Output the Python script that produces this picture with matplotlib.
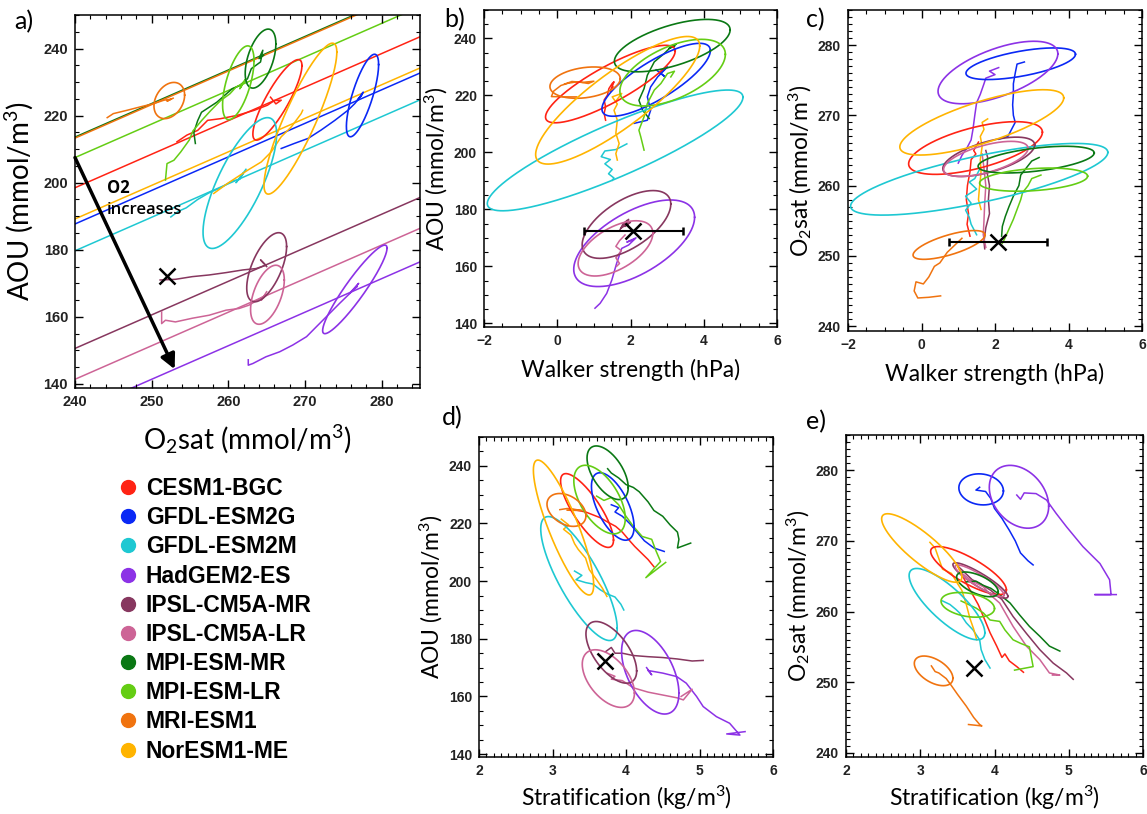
import numpy as np
import matplotlib
matplotlib.use("Agg")
import matplotlib.pyplot as plt
from matplotlib.ticker import MultipleLocator
from matplotlib.lines import Line2D

plt.rcParams['font.family'] = ['Lato', 'DejaVu Sans']
plt.rcParams['mathtext.fontset'] = 'custom'
plt.rcParams['mathtext.rm'] = 'Lato'
plt.rcParams['mathtext.it'] = 'Lato:italic'
plt.rcParams['mathtext.bf'] = 'Lato:bold'

# ---------------- data ----------------
models = ["CESM1-BGC", "GFDL-ESM2G", "GFDL-ESM2M", "HadGEM2-ES", "IPSL-CM5A-MR",
          "IPSL-CM5A-LR", "MPI-ESM-MR", "MPI-ESM-LR", "MRI-ESM1", "NorESM1-ME"]
colors = ["#FF2314", "#0A28F5", "#1EC8D2", "#8C32E6", "#87375F",
          "#CD6496", "#0A7814", "#64CD14", "#F0730F", "#FFB400"]

# observations (black cross) and Walker uncertainty
obs_o2sat = 252.0
obs_aou = 172.3
obs_walker = 2.08
obs_walker_err = 1.34
obs_strat = 3.72

# panel a: lines of constant O2 (O2 = O2sat - AOU)
o2_lines = {"CESM1-BGC": 41.5, "GFDL-ESM2G": 52.3, "GFDL-ESM2M": 60.3, "HadGEM2-ES": 108.6,
            "IPSL-CM5A-MR": 89.4, "IPSL-CM5A-LR": 98.6, "MPI-ESM-MR": 26.4,
            "MPI-ESM-LR": 32.5, "MRI-ESM1": 26.7, "NorESM1-ME": 50.8}

# trajectories: (x values, y values)
# panel a: O2sat vs AOU
traj_a = {
    "CESM1-BGC": ([253.3, 254.6, 256.0, 257.3, 259.0, 261.2, 263.4, 265.1, 266.0, 266.9, 266.2, 265.5],
                  [212.2, 214.2, 215.6, 218.6, 219.1, 220.1, 221.6, 223.1, 224.5, 224.6, 223.5, 225.5]),
    "GFDL-ESM2G": ([266.9, 268.6, 270.4, 272.1, 273.9, 275.6, 276.5, 277.4, 276.8, 277.6, 277.0],
                   [210.2, 211.7, 213.2, 215.7, 218.6, 221.6, 223.6, 226.1, 224.5, 227.0, 225.0]),
    "GFDL-ESM2M": ([252.5, 253.5, 254.5, 256.0, 257.5, 259.0, 260.5, 261.5, 262.0, 261.0, 262.3],
                   [189.8, 191.5, 192.5, 195.0, 197.0, 198.5, 200.5, 201.0, 203.0, 200.0, 204.0]),
    "HadGEM2-ES": ([262.6, 262.6, 263.2, 264.9, 266.7, 268.4, 270.2, 271.5, 273.2, 274.5, 276.3, 277.0, 275.8, 276.8],
                   [147.2, 145.6, 146.1, 148.1, 149.6, 151.6, 154.1, 157.1, 161.0, 164.0, 168.0, 170.0, 167.0, 169.0]),
    "IPSL-CM5A-MR": ([251.1, 253.1, 255.3, 257.5, 259.7, 261.9, 263.6, 264.9, 264.2, 265.0],
                     [171.0, 171.2, 172.0, 172.5, 173.2, 174.0, 174.4, 175.4, 177.0, 175.0]),
    "IPSL-CM5A-LR": ([251.3, 251.3, 251.8, 253.1, 255.3, 257.5, 259.7, 261.4, 262.7, 264.5, 264.9, 264.3, 265.0],
                     [161.5, 158.0, 159.0, 158.5, 159.6, 160.5, 162.0, 162.5, 163.5, 166.0, 166.5, 165.0, 167.5]),
    "MPI-ESM-MR": ([255.7, 255.5, 256.0, 256.5, 257.5, 258.5, 259.5, 260.5, 261.5, 262.5, 263.0, 264.2, 264.5, 264.0, 264.6],
                   [211.7, 215.0, 218.5, 221.0, 222.5, 224.0, 226.0, 228.0, 229.0, 231.0, 234.0, 236.0, 239.5, 237.0, 238.0]),
    "MPI-ESM-LR": ([251.8, 252.0, 252.9, 253.8, 254.9, 255.4, 256.5, 257.7, 259.0, 260.2, 261.0, 261.8, 262.3, 261.5, 262.0],
                   [200.8, 205.7, 206.7, 209.2, 212.7, 215.5, 218.5, 221.5, 224.5, 226.5, 228.5, 229.5, 231.0, 228.0, 230.0]),
    "MRI-ESM1": ([244.2, 245.0, 246.8, 248.5, 250.3, 251.6, 252.5, 252.0, 252.8],
                 [219.4, 220.6, 221.6, 222.6, 223.6, 224.6, 224.9, 224.3, 225.2]),
    "NorESM1-ME": ([258.1, 259.9, 262.5, 264.3, 265.6, 266.9, 268.2, 269.5, 269.7],
                   [196.8, 199.8, 203.7, 206.2, 209.2, 213.7, 216.6, 220.6, 221.6]),
}
# panel b: Walker strength vs AOU
traj_b = {
    "CESM1-BGC": ([1.32, 1.28, 1.32, 1.28, 1.37, 1.41, 1.50, 1.55, 1.45, 1.52],
                  [211.3, 213.7, 216.0, 218.4, 220.1, 222.4, 224.2, 224.8, 221.5, 223.0]),
    "GFDL-ESM2G": ([2.10, 2.46, 2.55, 2.46, 2.55, 2.74, 3.01, 2.80, 2.95, 2.70],
                   [210.2, 211.3, 214.8, 219.5, 223.0, 226.5, 230.0, 228.0, 226.5, 229.0]),
    "GFDL-ESM2M": ([1.50, 1.55, 1.40, 1.50, 1.30, 1.45, 1.20, 1.30, 1.60, 1.90],
                   [190.2, 191.0, 192.5, 194.0, 196.0, 197.5, 198.5, 200.5, 201.0, 203.0]),
    "HadGEM2-ES": ([1.03, 1.17, 1.35, 1.49, 1.62, 1.76, 1.95, 2.15, 1.90, 2.10],
                   [145.3, 147.0, 150.5, 155.2, 161.0, 166.3, 167.5, 170.0, 168.5, 169.5]),
    "IPSL-CM5A-MR": ([1.70, 1.80, 1.95, 1.85, 2.00, 1.75, 1.90],
                     [172.5, 175.0, 176.5, 174.0, 175.5, 173.5, 176.0]),
    "IPSL-CM5A-LR": ([1.62, 1.70, 1.60, 1.75, 1.60, 1.70, 1.85],
                     [160.0, 161.0, 163.0, 165.5, 167.0, 169.0, 171.0]),
    "MPI-ESM-MR": ([2.51, 2.33, 2.23, 2.37, 2.46, 2.65, 2.92, 3.15, 3.25, 3.05, 3.20],
                   [211.9, 214.8, 218.3, 222.4, 227.1, 231.8, 234.7, 237.6, 238.0, 236.5, 237.2]),
    "MPI-ESM-LR": ([2.37, 2.28, 2.23, 2.37, 2.46, 2.65, 2.83, 3.01, 3.20, 3.10],
                   [200.8, 205.5, 207.8, 212.5, 217.2, 221.9, 224.2, 227.7, 228.5, 226.5]),
    "MRI-ESM1": ([0.53, 0.20, -0.16, -0.10, 0.10, 0.30, 0.55, 0.85, 1.00, 0.70, 0.40, 0.20],
                 [219.5, 219.5, 219.6, 221.5, 223.5, 224.3, 224.8, 224.2, 225.0, 224.6, 224.9, 224.0]),
    "NorESM1-ME": ([1.64, 1.60, 1.69, 1.60, 1.64, 1.55, 1.64, 1.50, 1.76, 1.60],
                   [197.3, 199.6, 203.1, 206.7, 211.3, 214.8, 217.0, 219.5, 220.7, 218.0]),
}
# panel c: Walker strength vs O2sat
traj_c = {
    "CESM1-BGC": ([1.32, 1.24, 1.28, 1.22, 1.25, 1.32, 1.35, 1.48, 1.42, 1.55],
                  [252.8, 254.5, 256.0, 258.0, 260.0, 262.0, 263.7, 264.5, 265.0, 266.2]),
    "GFDL-ESM2G": ([2.10, 2.35, 2.45, 2.55, 2.50, 2.48, 2.50, 2.50, 2.55, 2.60, 2.80],
                   [266.6, 267.0, 268.0, 269.0, 270.0, 271.5, 273.0, 274.5, 276.0, 277.3, 277.6]),
    "GFDL-ESM2M": ([1.50, 1.45, 1.35, 1.30, 1.20, 1.35, 1.20, 1.50, 1.30, 1.45, 1.60],
                   [253.0, 253.5, 254.5, 255.5, 256.5, 257.5, 258.5, 259.5, 260.5, 261.0, 262.5]),
    "HadGEM2-ES": ([1.00, 1.10, 1.25, 1.35, 1.40, 1.45, 1.50, 1.60, 1.70, 1.75, 2.00, 1.85, 2.10],
                   [263.2, 264.3, 265.5, 266.5, 268.0, 270.0, 271.8, 273.0, 274.5, 275.3, 275.8, 276.3, 276.8]),
    "IPSL-CM5A-MR": ([1.72, 1.70, 1.75, 1.85, 1.82, 1.85, 1.78, 1.80, 1.75],
                     [251.0, 252.0, 254.0, 256.0, 258.0, 260.0, 262.0, 264.0, 265.0]),
    "IPSL-CM5A-LR": ([1.75, 1.68, 1.70, 1.72, 1.75, 1.70, 1.65],
                     [251.2, 253.0, 255.0, 257.5, 260.0, 262.5, 264.5]),
    "MPI-ESM-MR": ([2.18, 2.20, 2.28, 2.38, 2.50, 2.65, 2.70, 2.85, 3.00, 3.20],
                   [252.8, 254.2, 255.6, 257.0, 258.5, 260.0, 261.5, 262.5, 263.5, 264.0]),
    "MPI-ESM-LR": ([2.20, 2.25, 2.38, 2.50, 2.60, 2.70, 2.75, 2.90, 3.00, 3.25],
                   [251.8, 252.3, 253.8, 255.2, 256.6, 258.0, 259.0, 260.0, 261.0, 261.5]),
    "MRI-ESM1": ([0.52, 0.20, -0.10, -0.20, -0.15, 0.05, 0.20, 0.35, 0.50, 0.70, 0.90, 1.10],
                 [244.3, 244.1, 244.0, 245.0, 246.3, 246.0, 247.0, 248.5, 249.0, 250.5, 251.5, 252.5]),
    "NorESM1-ME": ([1.62, 1.55, 1.58, 1.62, 1.60, 1.65, 1.60, 1.70, 1.65, 1.80],
                   [256.6, 258.0, 259.9, 261.8, 263.7, 265.6, 267.0, 268.0, 269.0, 269.5]),
}
# panel d: Stratification vs AOU
traj_d = {
    "CESM1-BGC": ([3.25, 3.35, 3.45, 3.55, 3.65, 3.75, 3.86, 3.95, 4.05, 4.12, 4.20, 4.30, 4.38],
                  [225.0, 224.5, 224.0, 223.0, 222.0, 220.5, 219.0, 217.0, 214.0, 212.0, 210.0, 207.5, 205.0]),
    "GFDL-ESM2G": ([3.80, 3.90, 3.85, 3.95, 4.05, 4.15, 4.25, 4.38, 4.52],
                   [226.5, 225.5, 224.0, 222.5, 220.0, 217.0, 214.0, 211.5, 210.3]),
    "GFDL-ESM2M": ([3.30, 3.40, 3.32, 3.45, 3.55, 3.65, 3.75, 3.85, 3.93, 3.97],
                   [203.5, 202.0, 200.5, 199.5, 199.0, 197.0, 195.5, 194.5, 192.0, 190.0]),
    "HadGEM2-ES": ([4.28, 4.35, 4.30, 4.50, 4.69, 4.82, 4.96, 5.05, 5.23, 5.41, 5.55, 5.37, 5.62],
                   [170.0, 167.5, 169.0, 168.1, 166.9, 164.6, 160.0, 156.5, 153.0, 150.7, 146.6, 147.0, 147.8]),
    "IPSL-CM5A-MR": ([3.72, 3.80, 3.85, 3.95, 4.10, 4.30, 4.50, 4.70, 4.90, 5.05],
                     [175.5, 177.0, 175.0, 175.0, 174.2, 173.8, 173.5, 173.0, 172.3, 172.5]),
    "IPSL-CM5A-LR": ([3.75, 3.85, 3.80, 3.95, 4.10, 4.30, 4.50, 4.70, 4.78, 4.90, 4.75],
                     [168.0, 167.0, 166.0, 165.5, 163.0, 161.5, 160.5, 159.5, 158.8, 162.5, 160.0]),
    "MPI-ESM-MR": ([3.75, 3.80, 3.90, 4.00, 4.10, 4.18, 4.30, 4.38, 4.50, 4.60, 4.70, 4.72, 4.70, 4.88],
                   [239.0, 237.5, 235.8, 233.5, 232.5, 231.0, 227.5, 224.5, 222.5, 219.5, 217.0, 214.5, 211.5, 213.2]),
    "MPI-ESM-LR": ([3.60, 3.70, 3.80, 3.90, 4.00, 4.10, 4.22, 4.35, 4.40, 4.47, 4.27, 4.54],
                   [229.5, 228.0, 229.0, 226.5, 222.5, 219.0, 215.5, 214.5, 211.0, 206.8, 201.2, 206.5]),
    "MRI-ESM1": ([3.10, 3.20, 3.30, 3.40, 3.20],
                 [224.8, 225.2, 224.9, 224.5, 224.6]),
    "NorESM1-ME": ([3.12, 3.22, 3.15, 3.25, 3.30, 3.35, 3.45, 3.50, 3.60, 3.68, 3.74],
                   [221.5, 219.5, 218.0, 216.0, 213.0, 211.0, 208.0, 204.0, 200.5, 197.5, 194.7]),
}
# panel e: Stratification vs O2sat
traj_e = {
    "CESM1-BGC": ([3.50, 3.55, 3.62, 3.70, 3.78, 3.85, 3.94, 4.03, 4.10, 4.14, 4.20, 4.30, 4.39],
                  [266.5, 265.5, 264.0, 262.5, 261.0, 259.3, 257.0, 255.1, 253.5, 254.0, 253.0, 252.2, 251.4]),
    "GFDL-ESM2G": ([3.80, 3.75, 3.88, 3.95, 4.00, 4.10, 4.20, 4.28, 4.35, 4.45, 4.52],
                   [277.6, 277.2, 277.0, 276.0, 274.6, 273.2, 271.5, 270.0, 268.3, 267.2, 266.6]),
    "GFDL-ESM2M": ([3.30, 3.40, 3.48, 3.53, 3.62, 3.71, 3.80, 3.82, 3.87, 3.94],
                   [261.5, 261.0, 260.3, 259.8, 258.4, 257.4, 256.0, 254.6, 253.2, 252.0]),
    "HadGEM2-ES": ([4.30, 4.35, 4.40, 4.56, 4.70, 4.83, 4.97, 5.19, 5.42, 5.55, 5.57, 5.35, 5.64],
                   [276.5, 275.9, 276.8, 276.7, 275.8, 273.9, 272.0, 269.2, 266.8, 264.5, 262.4, 262.4, 262.4]),
    "IPSL-CM5A-MR": ([3.50, 3.60, 3.70, 3.80, 3.95, 4.10, 4.25, 4.43, 4.61, 4.79, 4.97, 5.06],
                     [266.5, 265.5, 264.5, 264.0, 263.0, 261.7, 259.3, 256.9, 254.6, 252.7, 251.3, 250.4]),
    "IPSL-CM5A-LR": ([3.55, 3.70, 3.85, 3.95, 4.07, 4.25, 4.43, 4.61, 4.74, 4.88, 4.78],
                     [265.5, 264.3, 263.5, 262.3, 261.2, 257.9, 255.1, 253.2, 251.3, 251.0, 251.0]),
    "MPI-ESM-MR": ([3.62, 3.75, 3.85, 3.95, 4.07, 4.21, 4.34, 4.47, 4.61, 4.74, 4.88],
                   [264.2, 264.3, 263.7, 263.3, 262.4, 261.2, 259.5, 257.9, 256.5, 255.1, 254.4]),
    "MPI-ESM-LR": ([3.55, 3.65, 3.75, 3.85, 3.94, 4.07, 4.14, 4.25, 4.35, 4.47, 4.52, 4.27],
                   [261.5, 261.0, 260.5, 259.8, 258.8, 258.6, 257.4, 256.0, 255.5, 255.0, 252.2, 251.7]),
    "MRI-ESM1": ([3.15, 3.20, 3.25, 3.35, 3.42, 3.50, 3.62, 3.72, 3.80, 3.83, 3.65],
                 [252.3, 251.5, 251.3, 250.5, 249.5, 248.3, 246.6, 245.0, 244.0, 243.8, 244.0]),
    "NorESM1-ME": ([3.13, 3.20, 3.25, 3.30, 3.42, 3.50, 3.56, 3.62, 3.67, 3.72, 3.76],
                   [269.8, 269.0, 267.5, 266.0, 265.4, 264.0, 263.0, 261.0, 259.0, 257.5, 256.0]),
}

# ellipses: (centre x, centre y, half-range x, half-range y, correlation)
ell_a = {"CESM1-BGC": (266.4, 224.7, 3.2, 12.0, 0.85), "GFDL-ESM2G": (277.5, 226.0, 2.1, 12.3, 0.75),
         "GFDL-ESM2M": (261.5, 199.9, 4.8, 19.5, 0.75), "HadGEM2-ES": (276.5, 168.2, 4.2, 13.2, 0.93),
         "IPSL-CM5A-MR": (265.0, 174.8, 2.6, 10.3, 0.6), "IPSL-CM5A-LR": (265.1, 166.6, 2.2, 8.8, 0.5),
         "MPI-ESM-MR": (264.2, 237.0, 2.0, 8.8, 0.5), "MPI-ESM-LR": (261.3, 229.8, 2.05, 11.0, 0.6),
         "MRI-ESM1": (252.3, 224.5, 2.0, 5.4, 0.3), "NorESM1-ME": (269.4, 219.1, 4.75, 22.5, 0.88)}
ell_b = {"CESM1-BGC": (1.45, 224.0, 1.77, 13.6, 0.85), "GFDL-ESM2G": (2.70, 225.5, 1.48, 12.8, 0.8),
         "GFDL-ESM2M": (1.58, 200.7, 3.49, 21.2, 0.88), "HadGEM2-ES": (2.10, 168.1, 1.65, 15.2, 0.6),
         "IPSL-CM5A-MR": (1.89, 174.7, 1.21, 11.9, 0.6), "IPSL-CM5A-LR": (1.59, 166.3, 1.02, 9.7, 0.55),
         "MPI-ESM-MR": (3.14, 237.5, 1.58, 9.2, 0.6), "MPI-ESM-LR": (3.15, 228.0, 1.44, 11.7, 0.55),
         "MRI-ESM1": (0.76, 224.5, 0.96, 5.5, 0.25), "NorESM1-ME": (1.65, 218.3, 2.24, 22.4, 0.85)}
ell_c = {"CESM1-BGC": (1.47, 265.35, 1.82, 3.75, 0.6), "GFDL-ESM2G": (2.70, 277.35, 1.49, 2.25, 0.6),
         "GFDL-ESM2M": (1.57, 260.9, 3.5, 5.1, 0.75), "HadGEM2-ES": (2.08, 276.1, 1.63, 4.45, 0.6),
         "IPSL-CM5A-MR": (1.83, 264.1, 1.25, 2.8, 0.6), "IPSL-CM5A-LR": (1.75, 263.8, 1.15, 2.5, 0.6),
         "MPI-ESM-MR": (3.12, 263.7, 1.58, 1.9, 0.5), "MPI-ESM-LR": (3.05, 260.85, 1.47, 1.65, 0.3),
         "MRI-ESM1": (0.75, 251.55, 0.98, 2.05, 0.7), "NorESM1-ME": (1.64, 269.0, 2.23, 4.65, 0.75)}
ell_d = {"CESM1-BGC": (3.47, 224.5, 0.36, 12.8, -0.8), "GFDL-ESM2G": (3.82, 225.9, 0.29, 11.7, -0.6),
         "GFDL-ESM2M": (3.36, 200.9, 0.52, 21.5, -0.8), "HadGEM2-ES": (4.33, 168.4, 0.39, 14.5, -0.5),
         "IPSL-CM5A-MR": (3.80, 175.3, 0.345, 10.7, -0.6), "IPSL-CM5A-LR": (3.76, 166.2, 0.355, 10.0, -0.5),
         "MPI-ESM-MR": (3.75, 237.6, 0.28, 9.3, -0.55), "MPI-ESM-LR": (3.64, 228.3, 0.35, 11.9, -0.55),
         "MRI-ESM1": (3.19, 224.7, 0.265, 5.7, -0.35), "NorESM1-ME": (3.15, 218.6, 0.41, 23.4, -0.85)}
ell_e = {"CESM1-BGC": (3.65, 265.8, 0.51, 3.4, -0.8), "GFDL-ESM2G": (3.82, 277.3, 0.30, 2.2, -0.1),
         "GFDL-ESM2M": (3.36, 261.05, 0.51, 5.05, -0.8), "HadGEM2-ES": (4.33, 276.25, 0.40, 4.45, -0.3),
         "IPSL-CM5A-MR": (3.81, 264.4, 0.37, 2.5, -0.9), "IPSL-CM5A-LR": (3.80, 264.35, 0.33, 2.25, -0.9),
         "MPI-ESM-MR": (3.77, 263.85, 0.28, 1.75, -0.6), "MPI-ESM-LR": (3.64, 260.95, 0.36, 1.75, -0.3),
         "MRI-ESM1": (3.18, 251.6, 0.26, 2.1, -0.5), "NorESM1-ME": (3.02, 269.0, 0.54, 4.85, -0.85)}

# ---------------- drawing ----------------
W, H = 1147, 814
fig = plt.figure(figsize=(W / 100, H / 100), dpi=100)

def rect(l, r, t, b):
    return [l / W, 1 - b / H, (r - l) / W, (b - t) / H]

tt = np.linspace(0, 2 * np.pi, 361)

def draw_ellipse(ax, p, color):
    cx, cy, sx, sy, rho = p
    phi = np.arccos(rho)
    ax.plot(cx + sx * np.cos(tt), cy + sy * np.cos(tt - phi), color=color, lw=1.2, zorder=3)

tick_font = dict(family=['Liberation Sans', 'DejaVu Sans'], weight='bold')

def style(ax, xlim, ylim, xmaj, xmin, ymaj, ymin, xlabel, ylabel, tfs, lfs, xpad, ypad):
    ax.set_xlim(xlim)
    ax.set_ylim(ylim)
    ax.xaxis.set_major_locator(MultipleLocator(xmaj))
    ax.xaxis.set_minor_locator(MultipleLocator(xmin))
    ax.yaxis.set_major_locator(MultipleLocator(ymaj))
    ax.yaxis.set_minor_locator(MultipleLocator(ymin))
    ax.tick_params(which='both', direction='in', top=True, right=True, colors='black')
    ax.tick_params(which='major', length=6, width=1.0, pad=5)
    ax.tick_params(which='minor', length=3, width=0.8)
    for lab in ax.get_xticklabels() + ax.get_yticklabels():
        lab.set_fontproperties(matplotlib.font_manager.FontProperties(size=tfs, **tick_font))
        lab.set_color('#222222')
    for s in ax.spines.values():
        s.set_linewidth(1.1)
    ax.set_xlabel(xlabel, fontsize=lfs, labelpad=xpad)
    ax.set_ylabel(ylabel, fontsize=lfs, labelpad=ypad)

def draw_panel(ax, traj, ell):
    for m, c in zip(models, colors):
        xs, ys = traj[m]
        ax.plot(xs, ys, color=c, lw=1.1, zorder=2)
        draw_ellipse(ax, ell[m], c)

# panel a
axa = fig.add_axes(rect(75, 420, 15, 388))
xline = np.array([240.0, 285.0])
for m, c in zip(models, colors):
    axa.plot(xline, xline - o2_lines[m], color=c, lw=1.1, zorder=1)
draw_panel(axa, traj_a, ell_a)
axa.plot([obs_o2sat], [obs_aou], marker='x', color='black', ms=12, mew=1.8, ls='', zorder=5)
axa.annotate("", xy=(253.0, 144.4), xytext=(240.0, 207.5),
             arrowprops=dict(arrowstyle='-|>', lw=2.5, color='black', mutation_scale=22,
                             shrinkA=0, shrinkB=0), zorder=6)
axa.text(244.2, 198.5, "O2", fontsize=12, fontweight='bold', family=['Open Sans', 'DejaVu Sans'],
         va='center', ha='left', zorder=6)
axa.text(244.2, 192.0, "increases", fontsize=12, fontweight='semibold', family=['Open Sans', 'DejaVu Sans'],
         va='center', ha='left', zorder=6)
style(axa, (240, 285), (138.8, 250), 10, 2, 20, 5,
      r"O$_2$sat (mmol/m$^3$)", r"AOU (mmol/m$^3$)", 10.5, 20, 10, 6)

# panel b
axb = fig.add_axes(rect(484, 777, 10, 327))
draw_panel(axb, traj_b, ell_b)
axb.errorbar([obs_walker], [obs_aou], xerr=[obs_walker_err], color='black', lw=1.5,
             capsize=3, capthick=1.5, marker='x', ms=12, mew=1.8, zorder=6)
style(axb, (-2, 6), (138.7, 250), 2, 0.5, 20, 5,
      "Walker strength (hPa)", r"AOU (mmol/m$^3$)", 10, 16.5, 8, 3)

# panel c
axc = fig.add_axes(rect(848, 1142, 10, 331))
draw_panel(axc, traj_c, ell_c)
axc.errorbar([obs_walker], [obs_o2sat], xerr=[obs_walker_err], color='black', lw=1.5,
             capsize=3, capthick=1.5, marker='x', ms=12, mew=1.8, zorder=6)
style(axc, (-2, 6), (239.3, 285), 2, 0.5, 10, 1,
      "Walker strength (hPa)", r"O$_2$sat (mmol/m$^3$)", 10, 16.5, 8, 3)

# panel d
axd = fig.add_axes(rect(479, 773, 437, 757))
draw_panel(axd, traj_d, ell_d)
axd.plot([obs_strat], [obs_aou], marker='x', color='black', ms=12, mew=1.8, ls='', zorder=6)
style(axd, (2, 6), (139, 250), 1, 0.1, 20, 5,
      r"Stratification (kg/m$^3$)", r"AOU (mmol/m$^3$)", 10, 16.5, 4, 3)

# panel e
axe = fig.add_axes(rect(846, 1143, 435, 757))
draw_panel(axe, traj_e, ell_e)
axe.plot([obs_strat], [obs_o2sat], marker='x', color='black', ms=12, mew=1.8, ls='', zorder=6)
style(axe, (2, 6), (239.4, 285), 1, 0.1, 10, 1,
      r"Stratification (kg/m$^3$)", r"O$_2$sat (mmol/m$^3$)", 10, 16.5, 4, 3)

# panel letters
for lab, (px, py) in zip(["a)", "b)", "c)", "d)", "e)"],
                         [(14, 22), (444, 20), (806, 20), (442, 418), (806, 422)]):
    fig.text(px / W, 1 - py / H, lab, fontsize=18, ha='left', va='center')

# legend
handles = [Line2D([], [], marker='o', ls='', color=c, markersize=10) for c in colors]
fig.legend(handles, models, loc='upper left', bbox_to_anchor=(117 / W, 1 - 477 / H),
           frameon=False, borderpad=0, borderaxespad=0, handlelength=1.0, handletextpad=0.25,
           labelspacing=0.27, prop=dict(family=['Liberation Sans', 'DejaVu Sans'], weight='bold', size=16.5))

fig.savefig("out.png", dpi=100)
